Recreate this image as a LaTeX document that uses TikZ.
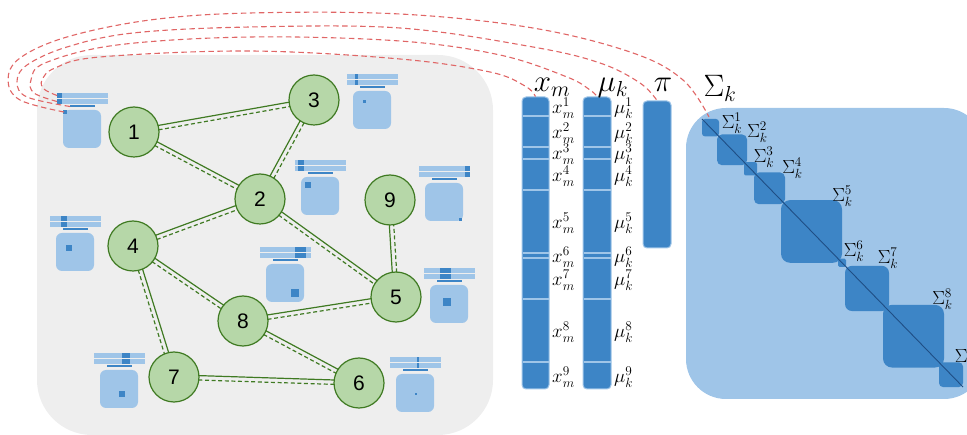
\RequirePackage{fix-cm}
\documentclass[tikz,border=0pt]{standalone}
\usepackage{fontspec}
\newfontfamily\nodefont{Liberation Sans}
\usetikzlibrary{calc}
\definecolor{lgreen}{HTML}{B6D7A8}
\definecolor{dgreen}{HTML}{3F7A22}
\definecolor{lblue}{HTML}{9FC5E8}
\definecolor{dblue}{HTML}{3D85C6}
\definecolor{panelgray}{HTML}{EEEEEE}
\definecolor{lred}{HTML}{E06666}
\definecolor{diagblue}{HTML}{1F4E85}
\newcommand\picon[9]{%
  \fill[lblue] (#2,#3) rectangle ++(51,5);
  \fill[lblue] (#2,#3+6) rectangle ++(51,5);
  \fill[dblue] (#2+#4,#3) rectangle ++(#5,5);
  \fill[dblue] (#2+#4,#3+6) rectangle ++(#5,5);
  \fill[dblue] (#2+13,#3+12.5) rectangle ++(25,2);
  \fill[lblue, rounded corners=6pt] (#2+6,#3+17) rectangle ++(38,38);
  \fill[dblue] (#2+6+#6,#3+17+#7) rectangle ++(#8,#8);
  \coordinate (#1-b1) at (#2,#3+2.5);
  \coordinate (#1-b2) at (#2,#3+8.5);
  \coordinate (#1-ln) at (#2+13,#3+13.5);
  \coordinate (#1-sq) at (#2+7,#3+19);
}
\newcommand\epair[2]{%
  \draw[gsolid] ($(#1.center)!2.2pt!90:(#2.center)$) -- ($(#2.center)!2.2pt!-90:(#1.center)$);
  \draw[gdash] ($(#1.center)!2.2pt!-90:(#2.center)$) -- ($(#2.center)!2.2pt!90:(#1.center)$);
}
\newcommand\sblock[3]{%
  \fill[dblue, rounded corners=#3] ({#1},{119+(#1-702)*1.027}) rectangle ({#2},{119+(#2-702)*1.027});
}
\begin{document}
\begin{tikzpicture}[x=1pt,y=-1pt,
  gnode/.style={circle, draw=dgreen, line width=1.2pt, fill=lgreen, minimum size=50pt, inner sep=0pt, font=\nodefont\fontsize{21}{21}\selectfont},
  gsolid/.style={draw=dgreen, line width=1.2pt, shorten >=24.5pt, shorten <=24.5pt},
  gdash/.style={gsolid, dash pattern=on 4pt off 2.6pt},
  redarc/.style={draw=lred, line width=1.1pt, dash pattern=on 5.5pt off 3.5pt},
  colbox/.style={draw=lblue, line width=1pt, fill=dblue, rounded corners=4pt, inner sep=0pt},
  sepline/.style={draw=lblue, line width=1.5pt},
  biglab/.style={inner sep=0pt, anchor=base, font=\fontsize{31}{31}\selectfont},
  smlab/.style={inner sep=0pt, font=\fontsize{19}{19}\selectfont},
]
\useasboundingbox (0,0) rectangle (967,435);
\clip (0,0) rectangle (967,435);

% panel
\node[fill=panelgray, rounded corners=55pt, minimum width=456pt, minimum height=380pt, inner sep=0pt] (panel) at (265,245) {};

% icons
\picon{i1}{57}{93}{0}{5}{0}{0}{4}{}
\picon{i3}{347}{74}{8}{3}{10}{9}{3}{}
\picon{i2}{295}{160}{3}{6}{4}{5}{6}{}
\picon{i9}{419}{166}{46}{5}{34}{35}{3}{}
\picon{i4}{50}{216}{11}{6}{10}{12}{6}{}
\picon{i8}{260}{247}{35}{11}{25}{25}{8}{}
\picon{i5}{424}{268}{16}{11}{13}{13}{8}{}
\picon{i7}{94}{353}{28}{8}{19}{21}{6}{}
\picon{i6}{390}{357}{27}{2}{19}{19}{2}{}

% graph nodes
\node[gnode] (n1) at (134,132) {1};
\node[gnode] (n3) at (314,100) {3};
\node[gnode] (n2) at (260,199) {2};
\node[gnode] (n9) at (390,200) {9};
\node[gnode] (n4) at (133,246) {4};
\node[gnode] (n5) at (396,297) {5};
\node[gnode] (n8) at (243,321) {8};
\node[gnode] (n7) at (174,377) {7};
\node[gnode] (n6) at (359,383) {6};

\epair{n1}{n3}
\epair{n1}{n2}
\epair{n2}{n3}
\epair{n4}{n2}
\epair{n2}{n5}
\epair{n5}{n9}
\epair{n4}{n8}
\epair{n4}{n7}
\epair{n8}{n5}
\epair{n8}{n6}
\epair{n7}{n6}

% columns
\node[colbox, minimum width=27pt, minimum height=292pt] (xcol) at (535.5,243) {};
\node[colbox, minimum width=28pt, minimum height=292pt] (mucol) at (597,243) {};
\node[colbox, minimum width=28pt, minimum height=147pt] (picol) at (657,174.5) {};
\foreach \yy in {116,147,159,190,253,258,299,362} {
  \draw[sepline] (522.5,\yy) -- (548.5,\yy);
  \draw[sepline] (583.5,\yy) -- (610.5,\yy);
}

% column labels
\node[biglab] (lx) at (552,92) {$x_m$};
\node[biglab] (lmu) at (613,92) {$\mu_k$};
\node[biglab] (lpi) at (663,92) {$\pi$};
\node[biglab] (lsig) at (720,97) {$\Sigma_k$};

\foreach \i/\c in {1/106.5,2/131.5,3/153,4/174.5,5/221.5,6/255.5,7/278.5,8/330.5,9/375.5} {
  \node[smlab, anchor=west] (xl\i) at (552,\c+1.5) {$x_m^{\i}$};
  \node[smlab, anchor=west] (ml\i) at (614,\c+1.5) {$\mu_k^{\i}$};
}

% Sigma matrix
\node[fill=lblue, rounded corners=40pt, minimum width=298pt, minimum height=291pt, inner sep=0pt] (sigbg) at (835,253.5) {};
\sblock{702}{719}{3pt}
\sblock{717}{747}{5pt}
\sblock{744}{757}{2pt}
\sblock{754}{785}{5pt}
\sblock{781}{842}{9pt}
\sblock{838}{846}{1.5pt}
\sblock{845}{889}{7pt}
\sblock{883}{944}{9pt}
\sblock{939}{963}{4pt}
\coordinate (dA) at (702,119);
\coordinate (dB) at (963,387);
\draw[diagblue, line width=0.9pt] (dA) -- (dB);

\foreach \i/\xx/\yy in {1/732/123,2/757.5/132.5,3/764/157,4/792.5/168,5/842.5/196.5,6/854/251,7/888/258,8/942.5/299,9/965/357} {
  \node[smlab] (sl\i) at (\xx,\yy) {$\Sigma_k^{\i}$};
}

% red dashed arcs
\coordinate (sigend) at (709,117);
\draw[redarc] plot[smooth, tension=0.6] coordinates {(i1-b1) (44,89) (42,80) (55,68) (100,57) (250,51) (400,59) (490,72) (525,86) (xcol.north)};
\draw[redarc] plot[smooth, tension=0.6] coordinates {(i1-b2) (34,93) (31,80) (45,63) (117,45) (250,37) (400,41) (500,55) (567,77) (590,90) (mucol.north)};
\draw[redarc] plot[smooth, tension=0.6] coordinates {(i1-ln) (27,97) (17,82) (27,65) (67,47) (133,33) (250,27) (400,28) (533,47) (600,63) (640,83) (picol.north)};
\draw[redarc] plot[smooth, tension=0.6] coordinates {(i1-sq) (20,100) (8,80) (20,58) (67,37) (150,20) (250,13) (400,14) (533,28) (633,53) (683,80) (sigend)};
\end{tikzpicture}
\end{document}
